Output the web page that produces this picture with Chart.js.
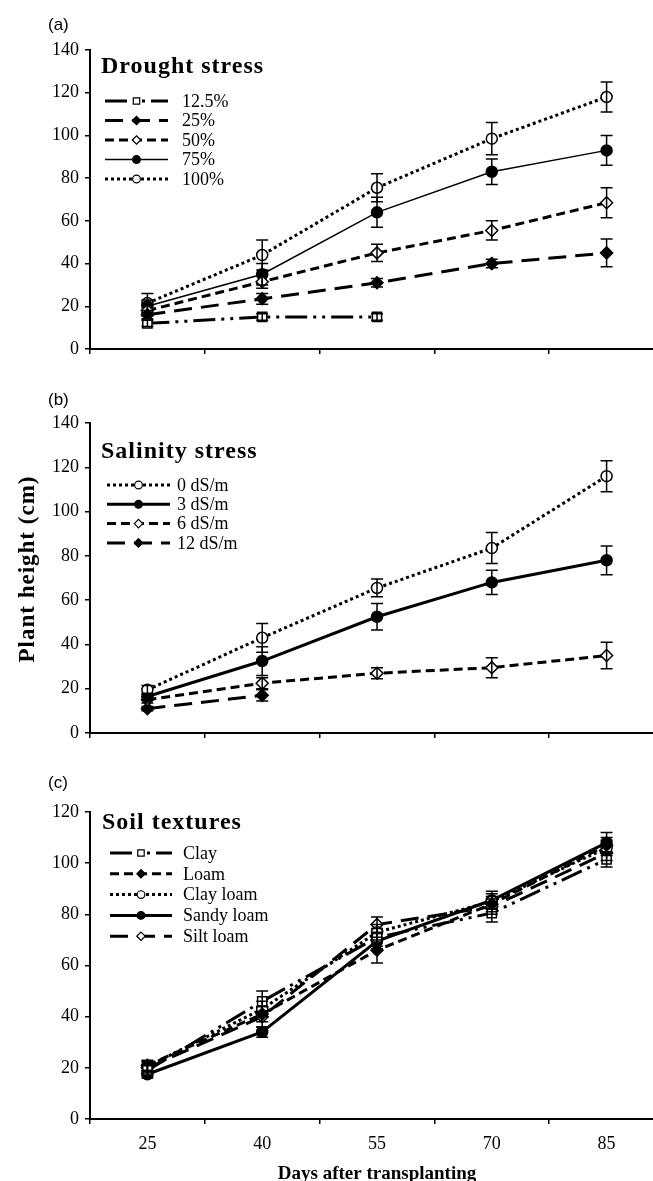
<!DOCTYPE html>
<html>
<head>
<meta charset="utf-8">
<script src="https://cdn.jsdelivr.net/npm/chart.js@4.4.1/dist/chart.umd.min.js"></script>
<style>
  html, body { margin: 0; padding: 0; background: #fff; }
  body { width: 653px; height: 1181px; overflow: hidden; position: relative; }
  canvas { position: absolute; left: 0; }
</style>
</head>
<body>
<canvas id="chartA" width="672" height="370" style="top:0px"></canvas>
<canvas id="chartB" width="672" height="380" style="top:373px"></canvas>
<canvas id="chartC" width="672" height="423" style="top:762px"></canvas>
<script>

/* ------------------------------------------------ */
// data

const days = ['25', '40', '55', '70', '85'];

// (a) drought stress
const droughtNames = ['12.5%', '25%', '50%', '75%', '100%'];
const drought125 = [12, 15, 15, null, null];
const drought125Err = [1.5, 1.5, 1.5, null, null];
const drought25 = [16, 23.5, 31, 40, 45];
const drought25Err = [2, 2.5, 2, 2, 6.5];
const drought50 = [18, 31.5, 45, 55.5, 68.5];
const drought50Err = [2.5, 3, 4, 4.5, 7];
const drought75 = [20, 35, 64, 83, 93];
const drought75Err = [3, 5, 7, 6, 7];
const drought100 = [21.5, 44, 75.5, 98.5, 118];
const drought100Err = [4.5, 7, 6.5, 7.5, 7];

// (b) salinity stress
const salinityNames = ['0 dS/m', '3 dS/m', '6 dS/m', '12 dS/m'];
const salt0 = [19.5, 43, 65.5, 83.5, 116];
const salt0Err = [2, 6.5, 4, 7, 7];
const salt3 = [16.5, 32.5, 52.5, 68, 78];
const salt3Err = [1.5, 6.5, 6, 5.5, 6.5];
const salt6 = [15, 22.5, 27, 29.5, 35];
const salt6Err = [1.5, 2.5, 2.5, 4.5, 6];
const salt12 = [11, 17, null, null, null];
const salt12Err = [1, 2.5, null, null, null];

// (c) soil textures
const soilNames = ['Clay', 'Loam', 'Clay loam', 'Sandy loam', 'Silt loam'];
const clay = [19, 46, 71, 80.5, 101.5];
const clayErr = [2, 4, 3.5, 3.5, 3];
const loam = [21, 41, 66, 84, 107];
const loamErr = [2, 3, 5, 3, 3];
const clayLoam = [20.5, 43, 73, 85, 106];
const clayLoamErr = [2, 3, 3, 3, 3];
const sandyLoam = [17.5, 34, 69.5, 85.5, 108];
const sandyLoamErr = [1.5, 2, 3, 3.5, 4];
const siltLoam = [20, 40, 76, 83, 104];
const siltLoamErr = [2, 4, 3, 3, 3];

/* ------------------------------------------------ */
// line and marker looks

const LINES = {
  dashDotDot: { borderWidth: 3, borderDash: [22, 6, 3, 6, 3, 6] },
  longDash: { borderWidth: 3, borderDash: [18, 9] },
  dash: { borderWidth: 3, borderDash: [9, 5] },
  thin: { borderWidth: 1.5, borderDash: [] },
  solid: { borderWidth: 3, borderDash: [] },
  dots: { borderWidth: 3, borderDash: [3, 3] },
};

const MARKERS = {
  openSquare: { pointStyle: 'rect', pointRadius: 6.5, pointBackgroundColor: '#fff' },
  filledDiamond: { pointStyle: 'rectRot', pointRadius: 6, pointBackgroundColor: '#000' },
  openDiamond: { pointStyle: 'rectRot', pointRadius: 6, pointBackgroundColor: '#fff' },
  filledCircle: { pointStyle: 'circle', pointRadius: 5.5, pointBackgroundColor: '#000' },
  openCircle: { pointStyle: 'circle', pointRadius: 5.5, pointBackgroundColor: '#fff' },
};

const SERIF = '"Liberation Serif", "Times New Roman", serif';
const SANS = '"Liberation Sans", Arial, sans-serif';

function makeSet(label, data, errors, line, marker) {
  let set = {
    label: label,
    data: data,
    errors: errors,
    borderColor: '#000',
    borderCapStyle: 'butt',
    tension: 0,
    fill: false,
    pointBorderColor: '#000',
    pointBorderWidth: 1.5,
    pointHoverRadius: 6,
  };
  Object.assign(set, LINES[line], MARKERS[marker]);
  return set;
}

/* ------------------------------------------------ */
// error bars, drawn from the same scales as the lines

const errorBars = {
  id: 'errorBars',
  afterDatasetsDraw(chart) {
    let ctx = chart.ctx;
    let y = chart.scales.y;
    ctx.save();
    ctx.strokeStyle = '#000';
    ctx.lineWidth = 1.5;
    ctx.setLineDash([]);
    chart.data.datasets.forEach((ds, i) => {
      let meta = chart.getDatasetMeta(i);
      ds.data.forEach((v, j) => {
        let e = ds.errors[j];
        if (v == null || e == null) return;
        let px = meta.data[j].x;
        let top = y.getPixelForValue(v + e);
        let bot = y.getPixelForValue(v - e);
        ctx.beginPath();
        ctx.moveTo(px, top); ctx.lineTo(px, bot);
        ctx.moveTo(px - 6, top); ctx.lineTo(px + 6, top);
        ctx.moveTo(px - 6, bot); ctx.lineTo(px + 6, bot);
        ctx.stroke();
      });
    });
    ctx.restore();
  }
};

/* ------------------------------------------------ */
// panel tag, boxed title and the line legend

function panelText(cfg) {
  return {
    id: 'panelText',
    afterDraw(chart) {
      let ctx = chart.ctx;
      ctx.save();
      ctx.fillStyle = '#000';
      ctx.textBaseline = 'middle';

      ctx.font = '17px ' + SANS;
      ctx.fillText(cfg.tag, 48, cfg.tagY);

      ctx.font = 'bold 24px ' + SERIF;
      ctx.letterSpacing = '1px';
      ctx.fillText(cfg.title, cfg.titleX, cfg.titleY);
      ctx.letterSpacing = '0px';

      chart.data.datasets.forEach((ds, i) => {
        let yy = cfg.legendTop + i * cfg.legendStep;
        ctx.strokeStyle = '#000';
        ctx.lineWidth = ds.borderWidth;
        ctx.lineCap = 'butt';
        ctx.setLineDash(ds.borderDash || []);
        ctx.beginPath();
        ctx.moveTo(cfg.sampleX0, yy);
        ctx.lineTo(cfg.sampleX1, yy);
        ctx.stroke();
        ctx.setLineDash([]);
        ctx.fillStyle = ds.pointBackgroundColor;
        ctx.lineWidth = 1.2;
        Chart.helpers.drawPoint(ctx, {
          pointStyle: ds.pointStyle,
          radius: ds.pointRadius * 0.7,
          rotation: 0,
          borderWidth: 1.2,
        }, (cfg.sampleX0 + cfg.sampleX1) / 2, yy);
        ctx.fillStyle = '#000';
        ctx.font = '18px ' + SERIF;
        ctx.fillText(ds.label, cfg.textX, yy + 1);
      });

      if (cfg.yTitle) {
        ctx.translate(28, cfg.yTitleY);
        ctx.rotate(-Math.PI / 2);
        ctx.textAlign = 'center';
        ctx.font = 'bold 23px ' + SERIF;
        ctx.letterSpacing = '1px';
        ctx.fillText(cfg.yTitle, 0, 0);
      }
      ctx.restore();
    }
  };
}

/* ------------------------------------------------ */

function panelOptions(yMax, xHeight, showDays) {
  return {
    responsive: false,
    animation: false,
    layout: { padding: { top: 50, right: 8, bottom: 0, left: 0 } },
    plugins: { legend: { display: false }, tooltip: { enabled: false } },
    scales: {
      x: {
        type: 'category',
        offset: true,
        afterFit: (scale) => { scale.height = xHeight; },
        grid: { display: true, offset: true, drawOnChartArea: false, drawTicks: true, tickLength: 5, color: '#000', lineWidth: 1.5 },
        border: { display: true, color: '#000', width: 2 },
        ticks: { display: showDays, color: '#000', padding: 9, font: { family: SERIF, size: 18 } },
        title: {
          display: showDays,
          text: 'Days after transplanting',
          color: '#000',
          padding: { top: 0, bottom: 0 },
          font: { family: SERIF, size: 19, weight: 'bold' },
        },
      },
      y: {
        min: 0,
        max: yMax,
        afterFit: (scale) => { scale.width = 90; },
        grid: { display: true, drawOnChartArea: false, drawTicks: true, tickLength: 5, color: '#000', lineWidth: 1.5 },
        border: { display: true, color: '#000', width: 2 },
        ticks: { stepSize: 20, color: '#000', padding: 6, font: { family: SERIF, size: 18 } },
      },
    },
  };
}

/* ------------------------------------------------ */

new Chart(document.getElementById('chartA'), {
  type: 'line',
  data: {
    labels: days,
    datasets: [
      makeSet(droughtNames[0], drought125, drought125Err, 'dashDotDot', 'openSquare'),
      makeSet(droughtNames[1], drought25, drought25Err, 'longDash', 'filledDiamond'),
      makeSet(droughtNames[2], drought50, drought50Err, 'dash', 'openDiamond'),
      makeSet(droughtNames[3], drought75, drought75Err, 'thin', 'filledCircle'),
      makeSet(droughtNames[4], drought100, drought100Err, 'dots', 'openCircle'),
    ],
  },
  options: panelOptions(140, 21, false),
  plugins: [errorBars, panelText({
    tag: '(a)', tagY: 25,
    title: 'Drought stress', titleX: 101, titleY: 67,
    legendTop: 101, legendStep: 19.5, sampleX0: 105, sampleX1: 168, textX: 182,
  })],
});

new Chart(document.getElementById('chartB'), {
  type: 'line',
  data: {
    labels: days,
    datasets: [
      makeSet(salinityNames[0], salt0, salt0Err, 'dots', 'openCircle'),
      makeSet(salinityNames[1], salt3, salt3Err, 'solid', 'filledCircle'),
      makeSet(salinityNames[2], salt6, salt6Err, 'dash', 'openDiamond'),
      makeSet(salinityNames[3], salt12, salt12Err, 'longDash', 'filledDiamond'),
    ],
  },
  options: panelOptions(140, 20, false),
  plugins: [errorBars, panelText({
    tag: '(b)', tagY: 27,
    title: 'Salinity stress', titleX: 101, titleY: 79,
    legendTop: 112, legendStep: 19.3, sampleX0: 107, sampleX1: 170, textX: 177,
    yTitle: 'Plant height (cm)', yTitleY: 196,
  })],
});

new Chart(document.getElementById('chartC'), {
  type: 'line',
  data: {
    labels: days,
    datasets: [
      makeSet(soilNames[0], clay, clayErr, 'dashDotDot', 'openSquare'),
      makeSet(soilNames[1], loam, loamErr, 'dash', 'filledDiamond'),
      makeSet(soilNames[2], clayLoam, clayLoamErr, 'dots', 'openCircle'),
      makeSet(soilNames[3], sandyLoam, sandyLoamErr, 'solid', 'filledCircle'),
      makeSet(soilNames[4], siltLoam, siltLoamErr, 'longDash', 'openDiamond'),
    ],
  },
  options: panelOptions(120, 66, true),
  plugins: [errorBars, panelText({
    tag: '(c)', tagY: 21,
    title: 'Soil textures', titleX: 102, titleY: 61,
    legendTop: 91, legendStep: 20.8, sampleX0: 110, sampleX1: 172, textX: 183,
  })],
});

</script>
</body>
</html>
